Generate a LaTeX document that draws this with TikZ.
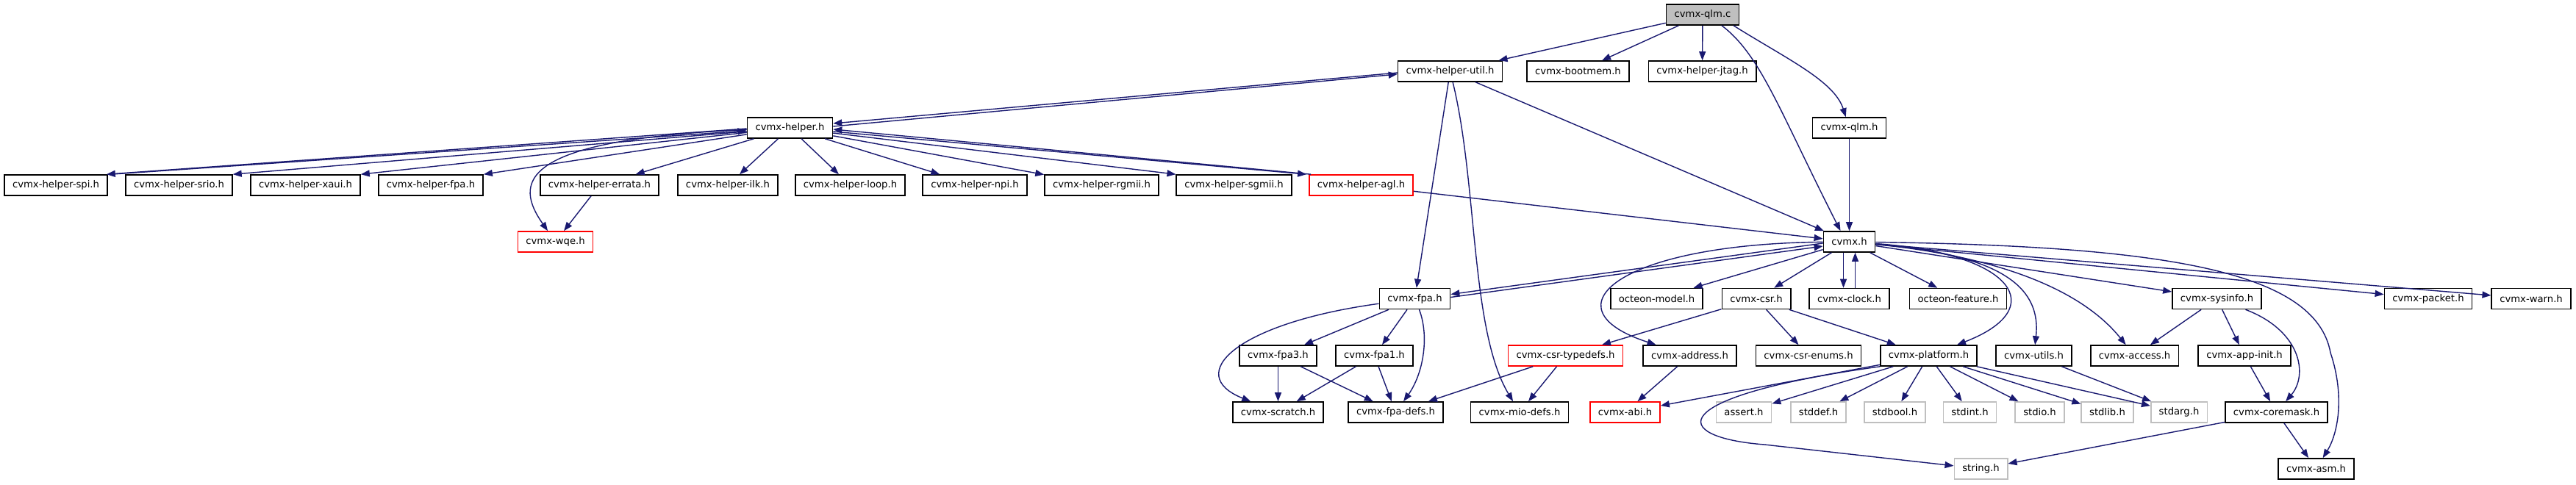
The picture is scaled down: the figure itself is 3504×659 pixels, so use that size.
\documentclass[tikz,border=0pt]{standalone}
\usepackage{fontspec}
\newfontfamily\graphfont{DejaVu Sans}
\usetikzlibrary{arrows.meta}
\definecolor{edgeblue}{HTML}{191970}
\definecolor{sysgray}{HTML}{BFBFBF}
\colorlet{missred}{red}
\tikzset{
  hdr/.style={draw=black, line width=0.8pt, fill=white, minimum height=14pt,
    inner xsep=5.5pt, inner ysep=0pt, font=\graphfont\fontsize{6.6}{8}\selectfont},
  syshdr/.style={hdr, draw=sysgray},
  redhdr/.style={hdr, draw=missred},
  srcfile/.style={hdr, fill=sysgray},
  inc/.style={draw=edgeblue, line width=0.7pt, -{Triangle[length=6pt,width=4.5pt]}},
}

\begin{document}
\begin{tikzpicture}[x=0.5pt, y=-0.5pt]
    \useasboundingbox (0,0) rectangle (3504,659);

    % top rows
    \node[srcfile] (qlmc) at (2316,20) {cvmx-qlm.c};
    \node[hdr] (helperutil) at (1972.5,97) {cvmx-helper-util.h};
    \node[hdr] (bootmem) at (2146.5,97) {cvmx-bootmem.h};
    \node[hdr] (jtag) at (2315.5,97) {cvmx-helper-jtag.h};
    \node[hdr] (helper) at (1074.5,174) {cvmx-helper.h};
    \node[hdr] (qlmh) at (2515.5,174) {cvmx-qlm.h};

    % helper row
    \node[hdr] (spi) at (76,252) {cvmx-helper-spi.h};
    \node[hdr] (srio) at (243.5,252) {cvmx-helper-srio.h};
    \node[hdr] (xaui) at (415.5,252) {cvmx-helper-xaui.h};
    \node[hdr] (hfpa) at (586,252) {cvmx-helper-fpa.h};
    \node[hdr] (errata) at (815.5,252) {cvmx-helper-errata.h};
    \node[hdr] (ilk) at (990,252) {cvmx-helper-ilk.h};
    \node[hdr] (loop) at (1156.5,252) {cvmx-helper-loop.h};
    \node[hdr] (npi) at (1326,252) {cvmx-helper-npi.h};
    \node[hdr] (rgmii) at (1498.5,252) {cvmx-helper-rgmii.h};
    \node[hdr] (sgmii) at (1678.5,252) {cvmx-helper-sgmii.h};
    \node[redhdr] (agl) at (1851.5,252) {cvmx-helper-agl.h};
    \node[redhdr] (wqe) at (755.5,329) {cvmx-wqe.h};
    \node[hdr] (cvmx) at (2515.5,329) {cvmx.h};

    % cvmx.h row
    \node[hdr] (fpa) at (1924.5,406.5) {cvmx-fpa.h};
    \node[hdr] (omodel) at (2253.5,406.5) {octeon-model.h};
    \node[hdr] (csr) at (2389,406.5) {cvmx-csr.h};
    \node[hdr] (clock) at (2515.5,406.5) {cvmx-clock.h};
    \node[hdr] (ofeature) at (2663.5,406.5) {octeon-feature.h};
    \node[hdr] (sysinfo) at (3015.5,406.5) {cvmx-sysinfo.h};
    \node[hdr] (packet) at (3303,406.5) {cvmx-packet.h};
    \node[hdr] (warn) at (3443,406.5) {cvmx-warn.h};

    \node[hdr] (fpa3) at (1738.5,484) {cvmx-fpa3.h};
    \node[hdr] (fpa1) at (1869.5,484) {cvmx-fpa1.h};
    \node[redhdr] (typedefs) at (2129.5,484) {cvmx-csr-typedefs.h};
    \node[hdr] (address) at (2298.5,484) {cvmx-address.h};
    \node[hdr] (enums) at (2460,484) {cvmx-csr-enums.h};
    \node[hdr] (platform) at (2623.5,484) {cvmx-platform.h};
    \node[hdr] (utils) at (2766.5,484) {cvmx-utils.h};
    \node[hdr] (access) at (2903.5,484) {cvmx-access.h};
    \node[hdr] (appinit) at (3053,484) {cvmx-app-init.h};

    % leaves
    \node[hdr] (scratch) at (1738.5,561) {cvmx-scratch.h};
    \node[hdr] (fpadefs) at (1898.5,561) {cvmx-fpa-defs.h};
    \node[hdr] (miodefs) at (2067,561) {cvmx-mio-defs.h};
    \node[redhdr] (abi) at (2210.5,561) {cvmx-abi.h};
    \node[syshdr] (assert) at (2372,561) {assert.h};
    \node[syshdr] (stddef) at (2473.5,561) {stddef.h};
    \node[syshdr] (stdbool) at (2577.5,561) {stdbool.h};
    \node[syshdr] (stdint) at (2679.5,561) {stdint.h};
    \node[syshdr] (stdio) at (2774.5,561) {stdio.h};
    \node[syshdr] (stdlib) at (2866.5,561) {stdlib.h};
    \node[syshdr] (stdarg) at (2964,561) {stdarg.h};
    \node[hdr] (coremask) at (3096.5,561) {cvmx-coremask.h};
    \node[syshdr] (string) at (2694.5,638) {string.h};
    \node[hdr] (asm) at (3150.5,638) {cvmx-asm.h};

    % cvmx-qlm.c
    \draw[inc] (qlmc) -- (helperutil);
    \draw[inc] (qlmc) -- (bootmem);
    \draw[inc] (qlmc) -- (jtag);
    \draw[inc] ([xshift=21pt]qlmc.south) .. controls (2430,80) and (2495,110) .. (qlmh);
    \draw[inc] ([xshift=13pt]qlmc.south) .. controls (2395,75) and (2420,150) .. ([xshift=-6pt]cvmx.north);
    \draw[inc] (qlmh) -- (cvmx);

    % cvmx-helper-util.h
    \draw[inc] ([yshift=-1pt]helperutil.west) -- ([yshift=3pt]helper.east);
    \draw[inc] (helperutil) -- (fpa);
    \draw[inc] (helperutil) .. controls (2010,250) and (2000,450) .. (miodefs);
    \draw[inc] (helperutil) -- (cvmx);

    % cvmx-helper.h
    \draw[inc] ([yshift=1pt]helper.east) -- ([yshift=-2pt]helperutil.west);
    \draw[inc] ([yshift=-0.5pt]helper.west) -- ([xshift=-1pt]spi.north east);
    \draw[inc] ([xshift=2pt]spi.north east) -- ([yshift=-2pt]helper.west);
    \draw[inc] (helper) -- (srio.north east);
    \draw[inc] (helper) -- (xaui.north east);
    \draw[inc] (helper) -- (hfpa.north east);
    \foreach \tgt in {errata,ilk,loop,npi,rgmii}
      \draw[inc] (helper) -- (\tgt);
    \draw[inc] (helper) -- (sgmii.north west);
    \draw[inc] ([yshift=-2.5pt]helper.east) -- ([xshift=-1.5pt]agl.north west);
    \draw[inc] ([xshift=1.5pt]agl.north west) -- ([yshift=-1pt]helper.east);
    \draw[inc] (helper) .. controls (700,190) and (700,250) .. (wqe);
    \draw[inc] (errata) -- (wqe);
    \draw[inc] (agl) -- (cvmx);

    % cvmx.h
    \draw[inc] ([yshift=-1pt]cvmx.west) -- ([yshift=3pt]fpa.east);
    \draw[inc] ([yshift=1pt]fpa.east) -- ([yshift=-3pt]cvmx.west);
    \draw[inc] (cvmx) .. controls (2200,332) and (2100,420) .. (address);
    \draw[inc] (cvmx) -- (omodel);
    \draw[inc] (cvmx) -- (csr);
    \draw[inc] ([xshift=-4pt]cvmx.south) -- ([xshift=-4pt]clock.north);
    \draw[inc] ([xshift=4pt]clock.north) -- ([xshift=4pt]cvmx.south);
    \draw[inc] (cvmx) -- (ofeature);
    \draw[inc] (cvmx) .. controls (2740,345) and (2790,420) .. (platform);
    \draw[inc] (cvmx) .. controls (2700,345) and (2778,380) .. (utils);
    \draw[inc] (cvmx) .. controls (2680,345) and (2820,380) .. (access);
    \foreach \tgt in {sysinfo,packet,warn}
      \draw[inc] (cvmx) -- (\tgt);
    \draw[inc] (cvmx) .. controls (2950,335) and (3150,370) .. (3170,480)
      .. controls (3190,540) and (3180,590) .. (asm);

    % lower levels
    \foreach \tgt in {typedefs,enums,platform}
      \draw[inc] (csr) -- (\tgt);
    \foreach \tgt in {fpa3,fpa1}
      \draw[inc] (fpa) -- (\tgt);
    \draw[inc] (fpa) .. controls (1680,440) and (1610,510) .. (scratch);
    \draw[inc] ([xshift=3pt]fpa.south) .. controls (1945,460) and (1935,510) .. (fpadefs);
    \foreach \src in {fpa3,fpa1} {
      \draw[inc] (\src) -- (scratch);
      \draw[inc] (\src) -- (fpadefs);
    }
    \foreach \tgt in {fpadefs,miodefs}
      \draw[inc] (typedefs) -- (\tgt);
    \draw[inc] (address) -- (abi);
    \foreach \tgt in {abi,assert,stddef,stdbool,stdint,stdio,stdlib,stdarg}
      \draw[inc] (platform) -- (\tgt);
    \draw[inc] (platform.south west) .. controls (2260,540) and (2270,595) .. (2400,605) -- (string);
    \draw[inc] (utils) -- (stdarg);
    \foreach \tgt in {access,appinit}
      \draw[inc] (sysinfo) -- (\tgt);
    \draw[inc] (sysinfo) .. controls (3130,450) and (3140,510) .. (coremask);
    \draw[inc] (appinit) -- (coremask);
    \foreach \tgt in {string,asm}
      \draw[inc] (coremask) -- (\tgt);
\end{tikzpicture}
\end{document}
